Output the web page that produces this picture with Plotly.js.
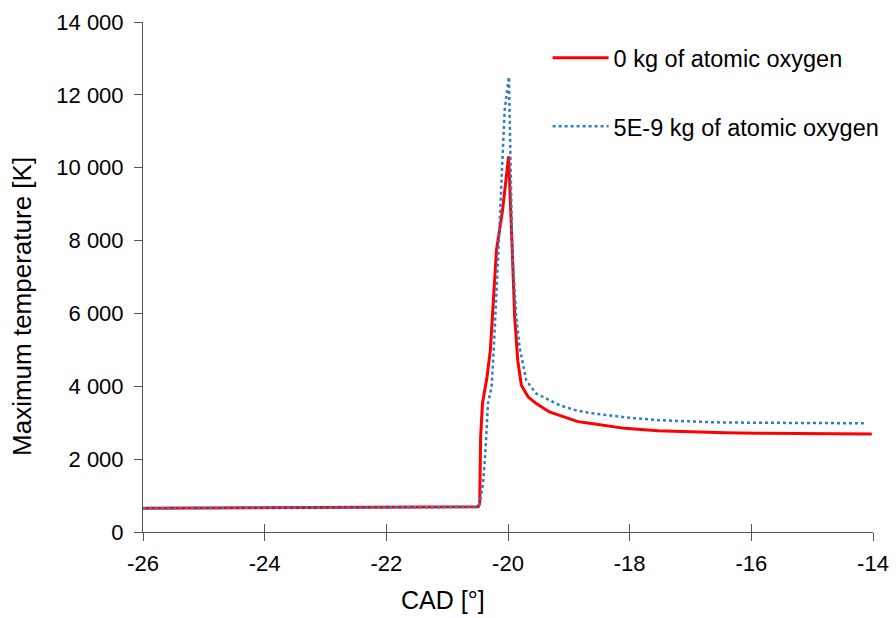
<!DOCTYPE html>
<html>
<head>
<meta charset="utf-8">
<script src="https://cdn.plot.ly/plotly-3.0.1.min.js"></script>
<style>
html,body{margin:0;padding:0;background:#fff;}
#chart{width:896px;height:618px;}
</style>
</head>
<body>
<div id="chart"></div>
<script>
// Series 1: 0 kg of atomic oxygen
const cad0 = [-26, -25, -24, -23, -22, -21, -20.52, -20.49, -20.465, -20.45, -20.42, -20.345, -20.29, -20.19, -20.09, -19.99, -19.93, -19.89, -19.84, -19.78, -19.67, -19.535, -19.32, -19.15, -18.85, -18.63, -18.08, -17.54, -16.99, -16.44, -15.90, -15.35, -14.81, -14.30, -14.02];
const temp0 = [655, 660, 665, 670, 675, 680, 686, 690, 780, 2610, 3525, 4255, 4990, 7730, 8830, 10310, 7730, 5900, 4710, 4030, 3710, 3525, 3295, 3205, 3030, 2980, 2845, 2780, 2745, 2725, 2710, 2705, 2705, 2695, 2690];

// Series 2: 5E-9 kg of atomic oxygen
const cad5 = [-26, -25, -24, -23, -22, -21, -20.52, -20.465, -20.41, -20.37, -20.33, -20.27, -20.235, -20.165, -20.10, -20.055, -19.985, -19.96, -19.93, -19.863, -19.81, -19.70, -19.535, -19.15, -18.90, -18.63, -18.08, -17.54, -16.99, -16.58, -16.00, -15.50, -15.00, -14.50, -14.15];
const temp5 = [655, 660, 665, 670, 675, 680, 686, 780, 1330, 2240, 3525, 3980, 4990, 7460, 10200, 11580, 12490, 10300, 7730, 5900, 5080, 4160, 3800, 3480, 3350, 3260, 3150, 3070, 3035, 3010, 3000, 2995, 2990, 2990, 2985];

const seriesNames = ['0 kg of atomic oxygen', '5E-9 kg of atomic oxygen'];

const xTickVals = [-26, -24, -22, -20, -18, -16, -14];
const xTickText = ['-26', '-24', '-22', '-20', '-18', '-16', '-14'];
const yTickVals = [0, 2000, 4000, 6000, 8000, 10000, 12000, 14000];
const yTickText = ['0', '2 000', '4 000', '6 000', '8 000', '10 000', '12 000', '14 000'];

const xTitle = 'CAD [°]';
const yTitle = 'Maximum temperature [K]';

const FONT = 'Liberation Sans, Arial, Helvetica, sans-serif';
const AX = '#555555';

const traces = [
  {x: cad0, y: temp0, name: seriesNames[0], type: 'scatter', mode: 'lines',
   line: {color: '#ff0000', width: 3}, legendgroup: 'a'},
  {x: cad5, y: temp5, name: seriesNames[1], type: 'scatter', mode: 'lines',
   line: {color: '#2e7dc6', width: 2.5, dash: 'dot'}, legendgroup: 'b'},
  {x: [], y: [], xaxis: 'x2', yaxis: 'y', showlegend: false, hoverinfo: 'skip', type: 'scatter', mode: 'lines'}
];

const layout = {
  width: 896, height: 618,
  margin: {l: 143, r: 22, t: 22, b: 86, pad: 0},
  paper_bgcolor: '#ffffff', plot_bgcolor: '#ffffff',
  font: {family: FONT, color: '#000000', size: 22},
  showlegend: true,
  legend: {
    x: 0.5535, y: 0.9725, xanchor: 'left', yanchor: 'top',
    font: {family: FONT, size: 23.5, color: '#000'},
    bgcolor: 'rgba(0,0,0,0)', borderwidth: 0,
    tracegroupgap: 35, traceorder: 'grouped', itemwidth: 56
  },
  xaxis: {
    range: [-26, -14], showgrid: false, zeroline: false,
    showline: true, linecolor: AX, linewidth: 1,
    ticks: 'outside', ticklen: 8, tickcolor: AX, tickwidth: 1,
    tickmode: 'array', tickvals: xTickVals, ticktext: xTickText,
    tickfont: {family: FONT, size: 22, color: '#000'},
    ticklabelstandoff: 4
  },
  xaxis2: {
    range: [-26, -14], overlaying: 'x', anchor: 'y', side: 'bottom',
    showgrid: false, zeroline: false, showline: false,
    ticks: 'inside', ticklen: 8, tickcolor: AX, tickwidth: 1,
    tickmode: 'array', tickvals: xTickVals, showticklabels: false
  },
  yaxis: {
    range: [0, 14000], showgrid: false, zeroline: false,
    showline: true, linecolor: AX, linewidth: 1,
    ticks: 'outside', ticklen: 8, tickcolor: AX, tickwidth: 1,
    tickmode: 'array', tickvals: yTickVals, ticktext: yTickText,
    tickfont: {family: FONT, size: 22, color: '#000'},
    ticklabelstandoff: 6
  },
  annotations: [
    {text: xTitle, xref: 'paper', yref: 'paper', x: 0.411, y: -0.134,
     xanchor: 'center', yanchor: 'middle', showarrow: false,
     font: {family: FONT, size: 25, color: '#000'}},
    {text: yTitle, xref: 'paper', yref: 'paper', x: -0.1655, y: 0.4416,
     xanchor: 'center', yanchor: 'middle', showarrow: false, textangle: -90,
     font: {family: FONT, size: 26, color: '#000'}}
  ]
};

Plotly.newPlot('chart', traces, layout, {displayModeBar: false, staticPlot: true});
</script>
</body>
</html>
